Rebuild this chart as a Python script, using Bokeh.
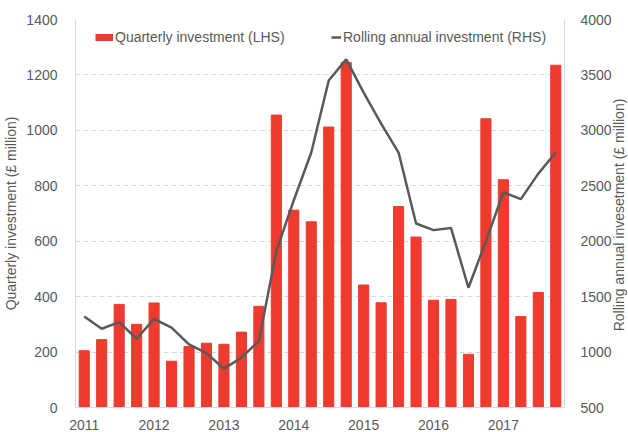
from bokeh.plotting import figure
from bokeh.layouts import row
from bokeh.models import Range1d, LinearAxis, Legend, LegendItem, FixedTicker, SingleIntervalTicker, Div
from bokeh.embed import file_html
from bokeh.resources import INLINE

# ---- data ----
years = ["2011", "2012", "2013", "2014", "2015", "2016", "2017"]
quarterly = [205, 245, 372, 300, 377, 167, 220, 232, 228, 272, 365, 1055,
             712, 670, 1012, 1245, 442, 378, 725, 615, 387, 390, 192, 1042,
             822, 328, 415, 1235]
rolling = [1320, 1210, 1270, 1120, 1300, 1220, 1070, 990, 850, 950, 1100, 1910,
           2370, 2800, 3450, 3640, 3340, 3060, 2800, 2160, 2100, 2120, 1580, 2000,
           2440, 2380, 2610, 2800]
quarter_index = list(range(len(quarterly)))
year_ticks = [i * 4 for i in range(len(years))]
right_title = "Rolling annual invesetment (£ million)"

BAR = "#EE3B2E"
LINE = "#595959"
TXT = "#595959"
GRID = "#D9D9D9"
FONT = "Liberation Sans"

p = figure(width=614, height=432, output_backend="svg", toolbar_location=None,
           x_range=Range1d(-0.5, len(quarterly) - 0.5), y_range=Range1d(0, 1400),
           min_border_left=75, min_border_right=49, min_border_top=19, min_border_bottom=25)
p.outline_line_color = None
p.extra_y_ranges = {"right": Range1d(500, 4000)}

p.vbar(x=quarter_index, top=quarterly, width=0.58, color=BAR)
line_r = p.line(x=quarter_index, y=rolling, y_range_name="right", line_color=LINE, line_width=2.5)
legend_bar = p.line(x=[float("nan")], y=[float("nan")], line_color=BAR, line_width=7)

# axes
xa = p.xaxis[0]
xa.ticker = FixedTicker(ticks=year_ticks)
xa.major_label_overrides = {t: y for t, y in zip(year_ticks, years)}
ya = p.yaxis[0]
ya.ticker = SingleIntervalTicker(interval=200)
ya.axis_label = "Quarterly investment (£ million)"

ra = LinearAxis(y_range_name="right", ticker=SingleIntervalTicker(interval=500))
p.add_layout(ra, "right")

for ax in [xa, ya, ra]:
    ax.axis_line_color = GRID
    ax.major_tick_line_color = None
    ax.minor_tick_line_color = None
    ax.major_label_text_font = FONT
    ax.major_label_text_font_size = "14px"
    ax.major_label_text_color = TXT
    ax.axis_label_text_font = FONT
    ax.axis_label_text_font_size = "14px"
    ax.axis_label_text_font_style = "normal"
    ax.axis_label_text_color = TXT
xa.major_label_standoff = 6
ya.major_label_standoff = 12
ra.major_label_standoff = 10
ya.axis_label_standoff = 4

p.xgrid.grid_line_color = None
p.ygrid.ticker = SingleIntervalTicker(interval=200)
p.ygrid.grid_line_color = GRID
p.ygrid.grid_line_dash = "5 3"

def mk_legend(label, rend, gw, loc):
    lg = Legend(items=[LegendItem(label=label, renderers=[rend])], location=loc,
                orientation="horizontal", padding=0, margin=0, spacing=0,
                glyph_width=gw, glyph_height=16, label_height=16, label_standoff=2,
                label_text_font=FONT, label_text_font_size="14px", label_text_color=TXT,
                border_line_color=None, background_fill_alpha=0)
    p.add_layout(lg, "center")

mk_legend("Quarterly investment (LHS)", legend_bar, 18, (20, 362))
mk_legend("Rolling annual investment (RHS)", line_r, 10, (256, 362))

# right axis title (reads bottom-to-top)
div = Div(width=14, height=432, margin=(0, 0, 0, 0), text=(
    '<div style="position:relative;width:14px;height:432px;overflow:visible;">'
    '<span style="position:absolute;left:5px;top:215px;white-space:nowrap;'
    'transform:translate(-50%,-50%) rotate(-90deg);'
    f"font-family:'{FONT}';font-size:14px;color:{TXT};line-height:16px;\">{right_title}</span></div>"))

layout = row(p, div, spacing=0)
open("out.html", "w").write(file_html(layout, INLINE))
